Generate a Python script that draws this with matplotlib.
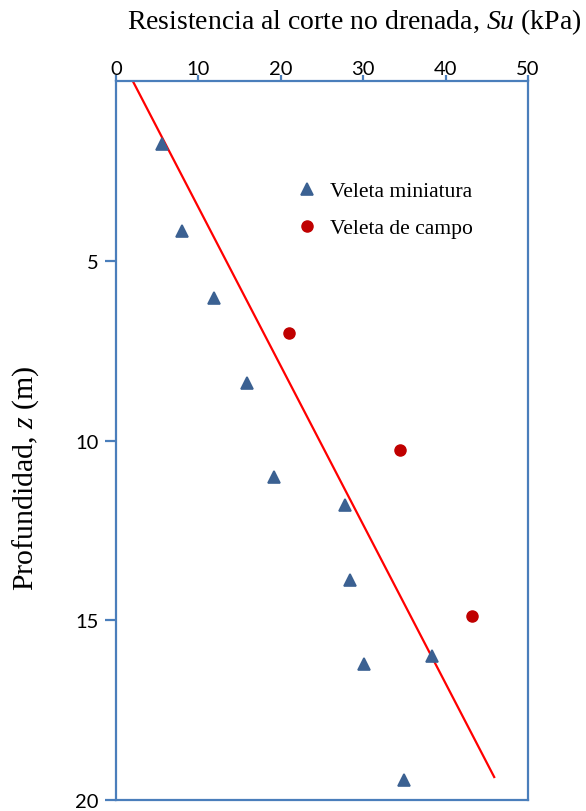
import matplotlib
matplotlib.use('Agg')
import matplotlib.pyplot as plt

plt.rcParams['mathtext.fontset'] = 'custom'
plt.rcParams['mathtext.it'] = 'Liberation Serif:italic'
plt.rcParams['mathtext.rm'] = 'Liberation Serif'

# Veleta miniatura (Su en kPa, profundidad z en m)
su_mini = [5.6, 8.0, 11.9, 15.9, 19.2, 27.8, 28.4, 30.1, 38.3, 35.0]
z_mini = [1.75, 4.17, 6.04, 8.40, 11.02, 11.79, 13.88, 16.22, 15.99, 19.44]

# Veleta de campo
su_campo = [21.0, 34.5, 43.2]
z_campo = [7.01, 10.26, 14.88]

# Recta de tendencia
su_recta = [2.1, 45.9]
z_recta = [0.03, 19.36]

x_ticks = [0, 10, 20, 30, 40, 50]
y_ticks = [5, 10, 15, 20]

azul_eje = '#4a7ebb'
azul_marca = '#3b6192'
rojo_marca = '#c00000'

fig = plt.figure(figsize=(5.86, 8.12), dpi=100)
ax = fig.add_axes([0.198, 0.0135, 0.703, 0.8855])

ax.plot(su_recta, z_recta, color='#ff0000', lw=1.6, zorder=2)
ax.plot(su_mini, z_mini, ls='none', marker='^', ms=9, color=azul_marca,
        mec=azul_marca, mew=1.2, label='Veleta miniatura', zorder=3)
ax.plot(su_campo, z_campo, ls='none', marker='o', ms=8, color=rojo_marca,
        mec=rojo_marca, label='Veleta de campo', zorder=3)

ax.set_xlim(0, 50)
ax.set_ylim(20, 0)
ax.xaxis.tick_top()
ax.set_xticks(x_ticks)
ax.set_yticks(y_ticks)
for s in ax.spines.values():
    s.set_color(azul_eje)
    s.set_linewidth(1.6)
ax.tick_params(axis='both', colors=azul_eje, width=1.6, direction='out',
               labelcolor='black', labelsize=14.5)
ax.tick_params(axis='x', length=4.5, pad=-1.5)
ax.tick_params(axis='y', length=8, pad=4.3)
for lab in ax.get_xticklabels() + ax.get_yticklabels():
    lab.set_family('Lato')

serif = 'Liberation Serif'
fig.text(0.605, 0.973, r'Resistencia al corte no drenada, $\it{Su}$ (kPa)',
         ha='center', va='center', fontsize=20, family=serif)
fig.text(0.043, 0.411, r'Profundidad, $\it{z}$ (m)', rotation=90,
         ha='center', va='center', fontsize=21.5, family=serif)

ax.legend(loc='upper left', bbox_to_anchor=(0.39, 0.888), frameon=False,
          prop={'family': serif, 'size': 15.6}, handlelength=1.0,
          handletextpad=0.55, labelspacing=0.78, numpoints=1)

fig.savefig('out.png', dpi=100)
